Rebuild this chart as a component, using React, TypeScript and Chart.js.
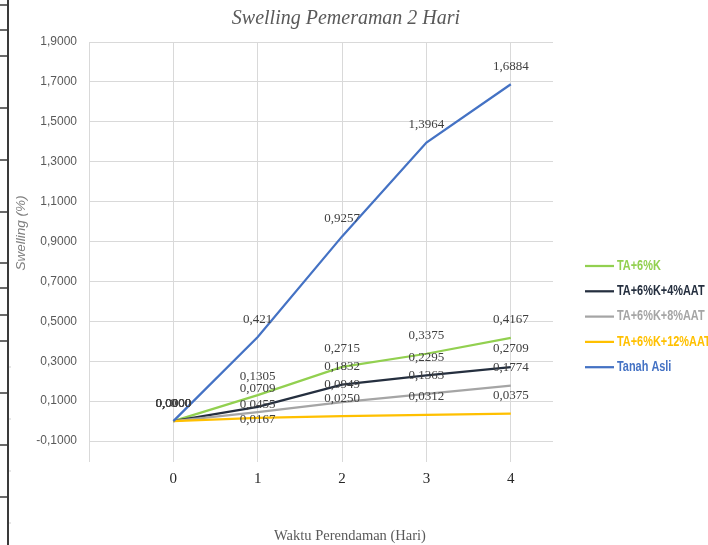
import React, { useEffect, useRef } from "react";
import { Chart, registerables } from "chart.js";

Chart.register(...registerables);

// ---------- data ----------
const days = [0, 1, 2, 3, 4];
const seriesNames = ["TA+6%K", "TA+6%K+4%AAT", "TA+6%K+8%AAT", "TA+6%K+12%AAT", "Tanah Asli"];
const ta6k = [0, 0.1305, 0.2715, 0.3375, 0.4167];
const ta6k4aat = [0, 0.0709, 0.1832, 0.2295, 0.2709];
const ta6k8aat = [0, 0.0455, 0.0949, 0.1363, 0.1774];
const ta6k12aat = [0, 0.0167, 0.025, 0.0312, 0.0375];
const tanahAsli = [0, 0.421, 0.9257, 1.3964, 1.6884];
const yTickValues = [-0.1, 0.1, 0.3, 0.5, 0.7, 0.9, 1.1, 1.3, 1.5, 1.7, 1.9];
const xTickValues = [-1, 0, 1, 2, 3, 4];
const titleText = "Swelling Pemeraman 2 Hari";
const xTitle = "Waktu Perendaman (Hari)";
const yTitle = "Swelling (%)";

// ---------- styles ----------
const seriesValues = [ta6k, ta6k4aat, ta6k8aat, ta6k12aat, tanahAsli];
const seriesColors = ["#92D050", "#252F3F", "#A5A5A5", "#FFC000", "#4472C4"];
// "general" number format for Tanah Asli, fixed 4 decimals for the rest
const seriesFixed = [true, true, true, true, false];
// manual label nudges (pixels, vertical) where the source moved labels
const labelNudge: Record<string, number> = { "2-1": -7, "3-1": 2 };
const defaultLabelShift = -18;

const fmt = (v: number, fixed: boolean) =>
  (fixed ? v.toFixed(4) : String(v)).replace(".", ",");

const decorPlugin = {
  id: "decor",
  afterDatasetsDraw(chart: any) {
    const ctx = chart.ctx as CanvasRenderingContext2D;
    ctx.save();
    ctx.font = '13px "Liberation Serif"';
    ctx.fillStyle = "#404040";
    ctx.textAlign = "center";
    ctx.textBaseline = "middle";
    seriesValues.forEach((vals, di) => {
      const meta = chart.getDatasetMeta(di);
      meta.data.forEach((pt: any, i: number) => {
        const key = `${di}-${i}`;
        const dy = key in labelNudge ? labelNudge[key] : defaultLabelShift;
        ctx.fillText(fmt(vals[i], seriesFixed[di]), pt.x, pt.y + dy);
      });
    });
    ctx.restore();
  },
  afterDraw(chart: any) {
    const ctx = chart.ctx as CanvasRenderingContext2D;
    const area = chart.chartArea;
    ctx.save();
    // title
    ctx.font = 'italic 20px "Liberation Serif"';
    ctx.fillStyle = "#595959";
    ctx.textAlign = "center";
    ctx.textBaseline = "middle";
    ctx.fillText(titleText, 346, 19);
    // x title
    ctx.font = '14.5px "Liberation Serif"';
    ctx.fillStyle = "#595959";
    ctx.fillText(xTitle, 350, 536);
    // y title
    ctx.save();
    ctx.translate(21, 233);
    ctx.rotate(-Math.PI / 2);
    ctx.font = 'italic 13.5px "Liberation Sans"';
    ctx.fillStyle = "#7F7F7F";
    ctx.fillText(yTitle, 0, 0);
    ctx.restore();
    // legend
    const lx = area.right + 32;
    seriesNames.forEach((name, i) => {
      const y = 266 + i * 25.3;
      ctx.strokeStyle = seriesColors[i];
      ctx.lineWidth = 2.25;
      ctx.beginPath();
      ctx.moveTo(lx, y);
      ctx.lineTo(lx + 29, y);
      ctx.stroke();
      ctx.save();
      ctx.translate(lx + 32, y);
      ctx.scale(0.78, 1);
      ctx.font = 'bold 14px "Liberation Sans"';
      ctx.fillStyle = seriesColors[i];
      ctx.textAlign = "left";
      ctx.textBaseline = "middle";
      ctx.fillText(name, 0, 0);
      ctx.restore();
    });
    // page frame on the far left
    ctx.strokeStyle = "#3A3A3A";
    ctx.lineWidth = 2;
    ctx.beginPath();
    ctx.moveTo(8, 0);
    ctx.lineTo(8, 545);
    ctx.stroke();
    ctx.lineWidth = 1.5;
    [5, 30, 56, 108, 160, 212, 263, 288, 315, 341, 393, 445, 497].forEach((y) => {
      ctx.beginPath();
      ctx.moveTo(0, y);
      ctx.lineTo(8, y);
      ctx.stroke();
    });
    ctx.strokeStyle = "#CFCFCF";
    ctx.lineWidth = 1;
    [367, 419, 471, 523].forEach((y) => {
      ctx.beginPath();
      ctx.moveTo(9, y);
      ctx.lineTo(11, y);
      ctx.stroke();
    });
    ctx.restore();
  },
};

export default function App() {
  const ref = useRef<HTMLCanvasElement | null>(null);
  useEffect(() => {
    if (!ref.current) return;
    const chart = new Chart(ref.current, {
      type: "line",
      data: {
        datasets: seriesNames.map((name, i) => ({
          label: name,
          data: days.map((d, j) => ({ x: d, y: seriesValues[i][j] })),
          borderColor: seriesColors[i],
          backgroundColor: seriesColors[i],
          borderWidth: 2.25,
          pointRadius: 0,
          tension: 0,
          fill: false,
          order: seriesNames.length - 1 - i,
        })),
      },
      options: {
        animation: false,
        responsive: false,
        maintainAspectRatio: false,
        layout: { padding: { top: 42, right: 155, left: 0, bottom: 0 } },
        plugins: {
          legend: { display: false },
          title: { display: false },
          tooltip: { enabled: false },
        },
        scales: {
          x: {
            type: "linear",
            min: -1,
            max: 4.5,
            afterBuildTicks: (s: any) => {
              s.ticks = xTickValues.map((v) => ({ value: v }));
            },
            afterFit: (s: any) => {
              s.height = 83;
            },
            grid: { color: "#D9D9D9", lineWidth: 1, drawTicks: false },
            border: { display: false },
            ticks: {
              padding: 8,
              color: "#262626",
              font: { family: "Liberation Serif", size: 15 },
              maxRotation: 0,
              autoSkip: false,
              callback: (v: any) => (v < 0 ? "" : String(v)),
            },
          },
          y: {
            type: "linear",
            min: -0.205,
            max: 1.9,
            afterBuildTicks: (s: any) => {
              s.ticks = yTickValues.map((v) => ({ value: v }));
            },
            afterFit: (s: any) => {
              s.width = 89;
            },
            grid: { color: "#D9D9D9", lineWidth: 1, drawTicks: false },
            border: { display: false },
            ticks: {
              padding: 12,
              color: "#595959",
              font: { family: "Liberation Sans", size: 12 },
              autoSkip: false,
              callback: (v: any) => Number(v).toFixed(4).replace(".", ","),
            },
          },
        },
      },
      plugins: [decorPlugin],
    });
    return () => chart.destroy();
  }, []);
  return (
    <div style={{ position: "absolute", left: 0, top: 0, width: 708, height: 545, background: "#fff" }}>
      <canvas ref={ref} width={708} height={545} style={{ width: 708, height: 545, display: "block" }} />
    </div>
  );
}
